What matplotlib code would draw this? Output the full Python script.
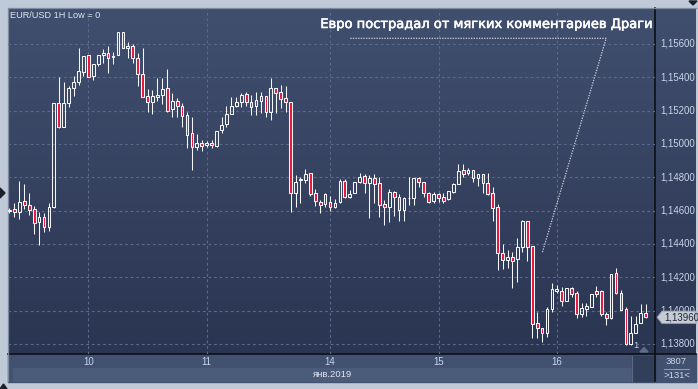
import numpy as np
import matplotlib
matplotlib.use('Agg')
import matplotlib.pyplot as plt
import matplotlib.patheffects as pe
from matplotlib.patches import Rectangle, Polygon

# ===== DATA : EUR/USD 1H, 9-16 Jan 2019 =====
opens = [1.14598, 1.14608, 1.14590, 1.14660, 1.14632, 1.14608, 1.14530, 1.14560, 1.14504, 1.14624,
         1.15244, 1.15104, 1.15244, 1.15334, 1.15372, 1.15434, 1.15531, 1.15410, 1.15480, 1.15532,
         1.15544, 1.15520, 1.15534, 1.15674, 1.15574, 1.15590, 1.15514, 1.15418, 1.15290, 1.15252,
         1.15284, 1.15292, 1.15334, 1.15208, 1.15258, 1.15228, 1.15174, 1.15068, 1.14980, 1.15004,
         1.14996, 1.15004, 1.14988, 1.15084, 1.15120, 1.15178, 1.15228, 1.15250, 1.15300, 1.15254,
         1.15230, 1.15260, 1.15288, 1.15194, 1.15334, 1.15310, 1.15274, 1.15254, 1.14704, 1.14784,
         1.14784, 1.14824, 1.14704, 1.14654, 1.14640, 1.14650, 1.14620, 1.14650, 1.14778, 1.14684,
         1.14704, 1.14774, 1.14808, 1.14764, 1.14794, 1.14764, 1.14638, 1.14620, 1.14710, 1.14684,
         1.14604, 1.14674, 1.14674, 1.14794, 1.14770, 1.14708, 1.14660, 1.14698, 1.14680, 1.14668,
         1.14714, 1.14760, 1.14844, 1.14824, 1.14844, 1.14794, 1.14820, 1.14764, 1.14704, 1.14620,
         1.14344, 1.14304, 1.14324, 1.14308, 1.14384, 1.14538, 1.14388, 1.13924, 1.13894, 1.13868,
         1.14008, 1.14120, 1.14120, 1.14060, 1.14134, 1.14104, 1.13978, 1.14008, 1.14024, 1.14120,
         1.14118, 1.13978, 1.13954, 1.14224, 1.14108, 1.14008, 1.13800, 1.13868, 1.13924, 1.13984]

highs = [1.14616, 1.14648, 1.14780, 1.14760, 1.14708, 1.14628, 1.14594, 1.14588, 1.14648, 1.15244,
         1.15400, 1.15372, 1.15348, 1.15408, 1.15574, 1.15528, 1.15534, 1.15478, 1.15534, 1.15570,
         1.15588, 1.15554, 1.15674, 1.15674, 1.15610, 1.15600, 1.15544, 1.15574, 1.15330, 1.15324,
         1.15394, 1.15394, 1.15448, 1.15304, 1.15278, 1.15244, 1.15194, 1.15164, 1.15060, 1.15024,
         1.15020, 1.15024, 1.15080, 1.15164, 1.15230, 1.15280, 1.15284, 1.15308, 1.15312, 1.15294,
         1.15314, 1.15314, 1.15288, 1.15394, 1.15334, 1.15354, 1.15348, 1.15254, 1.14814, 1.14800,
         1.14848, 1.14824, 1.14728, 1.14664, 1.14708, 1.14688, 1.14670, 1.14790, 1.14788, 1.14724,
         1.14774, 1.14824, 1.14818, 1.14814, 1.14818, 1.14804, 1.14664, 1.14728, 1.14720, 1.14698,
         1.14684, 1.14804, 1.14794, 1.14804, 1.14770, 1.14714, 1.14714, 1.14708, 1.14708, 1.14718,
         1.14764, 1.14878, 1.14880, 1.14854, 1.14844, 1.14820, 1.14820, 1.14824, 1.14744, 1.14638,
         1.14400, 1.14364, 1.14354, 1.14434, 1.14544, 1.14538, 1.14388, 1.13994, 1.13894, 1.14020,
         1.14164, 1.14154, 1.14140, 1.14134, 1.14140, 1.14118, 1.14044, 1.14044, 1.14100, 1.14148,
         1.14124, 1.13994, 1.14218, 1.14254, 1.14124, 1.14024, 1.13968, 1.13968, 1.14038, 1.14038]

lows = [1.14586, 1.14560, 1.14548, 1.14612, 1.14576, 1.14460, 1.14394, 1.14472, 1.14480, 1.14616,
        1.15094, 1.15100, 1.15220, 1.15288, 1.15352, 1.15408, 1.15404, 1.15384, 1.15468, 1.15488,
        1.15424, 1.15478, 1.15534, 1.15574, 1.15518, 1.15484, 1.15348, 1.15284, 1.15194, 1.15178,
        1.15260, 1.15240, 1.15194, 1.15164, 1.15164, 1.15104, 1.14974, 1.14844, 1.14964, 1.14960,
        1.14980, 1.14974, 1.14984, 1.15068, 1.15104, 1.15178, 1.15224, 1.15224, 1.15228, 1.15174,
        1.15174, 1.15184, 1.15164, 1.15144, 1.15184, 1.15218, 1.15194, 1.14594, 1.14624, 1.14648,
        1.14768, 1.14688, 1.14628, 1.14588, 1.14624, 1.14600, 1.14614, 1.14644, 1.14674, 1.14678,
        1.14704, 1.14764, 1.14708, 1.14558, 1.14644, 1.14564, 1.14514, 1.14534, 1.14568, 1.14540,
        1.14540, 1.14634, 1.14634, 1.14744, 1.14684, 1.14644, 1.14644, 1.14654, 1.14648, 1.14664,
        1.14708, 1.14760, 1.14804, 1.14814, 1.14774, 1.14748, 1.14708, 1.14694, 1.14540, 1.14244,
        1.14248, 1.14254, 1.14134, 1.14174, 1.14354, 1.14300, 1.13834, 1.13834, 1.13814, 1.13844,
        1.13994, 1.14104, 1.14028, 1.14060, 1.14084, 1.13958, 1.13964, 1.13968, 1.14024, 1.14080,
        1.13968, 1.13914, 1.13948, 1.14100, 1.14004, 1.13794, 1.13794, 1.13864, 1.13924, 1.13954]

closes = [1.14607, 1.14590, 1.14654, 1.14632, 1.14604, 1.14524, 1.14560, 1.14500, 1.14624, 1.15244,
          1.15104, 1.15244, 1.15334, 1.15372, 1.15436, 1.15528, 1.15405, 1.15478, 1.15534, 1.15544,
          1.15518, 1.15528, 1.15674, 1.15574, 1.15588, 1.15514, 1.15418, 1.15284, 1.15252, 1.15286,
          1.15292, 1.15328, 1.15200, 1.15258, 1.15228, 1.15168, 1.15054, 1.14980, 1.15004, 1.14988,
          1.15004, 1.14992, 1.15080, 1.15112, 1.15180, 1.15228, 1.15252, 1.15296, 1.15254, 1.15224,
          1.15264, 1.15288, 1.15194, 1.15334, 1.15308, 1.15268, 1.15254, 1.14704, 1.14774, 1.14792,
          1.14818, 1.14700, 1.14660, 1.14634, 1.14700, 1.14620, 1.14644, 1.14778, 1.14684, 1.14700,
          1.14770, 1.14800, 1.14764, 1.14794, 1.14758, 1.14634, 1.14620, 1.14710, 1.14684, 1.14604,
          1.14674, 1.14676, 1.14794, 1.14770, 1.14704, 1.14654, 1.14700, 1.14674, 1.14660, 1.14718,
          1.14760, 1.14838, 1.14818, 1.14844, 1.14794, 1.14820, 1.14764, 1.14700, 1.14614, 1.14344,
          1.14304, 1.14324, 1.14300, 1.14384, 1.14538, 1.14384, 1.13920, 1.13894, 1.13864, 1.14008,
          1.14128, 1.14128, 1.14060, 1.14134, 1.14100, 1.13978, 1.14014, 1.14030, 1.14100, 1.14100,
          1.13978, 1.13954, 1.14218, 1.14108, 1.14004, 1.13800, 1.13864, 1.13918, 1.13984, 1.13960]

day_pos = [16, 40, 65, 87, 111]
day_labels = ['10', '11', '14', '15', '16']
price_levels = [1.138, 1.140, 1.142, 1.144, 1.146, 1.148, 1.150, 1.152, 1.154, 1.156]

title = 'EUR/USD 1H Low = 0'
note = 'Евро пострадал от мягких комментариев Драги'
# annotation path (bar index, price)
note_line_x = [69.1, 121.0, 108.0]
note_line_y = [1.15634, 1.15634, 1.14344]

# ===== STYLE =====
W, H = 698, 389
OUTER = '#bfc9d7'
GRID = '#5a6a8c'
TXT = '#c9d5ea'
RED = '#e8163a'
WHITE = '#f4f6fa'
LAB_FONT = ['Liberation Sans', 'DejaVu Sans']

fig = plt.figure(figsize=(W / 100, H / 100), dpi=100)
fig.patch.set_facecolor(OUTER)

# background layer in pixel coordinates
bg = fig.add_axes([0, 0, 1, 1])
bg.axis('off')
grad = np.linspace(0, 1, 256).reshape(-1, 1, 1)
c_top = np.array([0x41, 0x4f, 0x6f]) / 255
c_bot = np.array([0x2a, 0x35, 0x51]) / 255
img = c_top + (c_bot - c_top) * grad
bg.imshow(img, extent=(8, 696, 354, 8), aspect='auto', interpolation='bilinear', zorder=0)
bg.set_xlim(0, W)
bg.set_ylim(H, 0)

# time axis band
bg.add_patch(Rectangle((8, 354), 688, 27.5, color='#425170', zorder=1))
bg.add_patch(Rectangle((12.5, 367.5), 620, 13.5, color='#4b5b7a', zorder=1))
bg.add_patch(Rectangle((632, 356), 23, 25, color='#323f5b', zorder=2))
bg.plot([632, 632], [356, 381], color='#5a6984', lw=0.8, zorder=3)
bg.plot([8, 696], [354, 354], color='#0c0f16', lw=1.2, zorder=3)
bg.plot([655, 655], [8, 381], color='#0c0f16', lw=1.2, zorder=3)
bg.plot([7.5, 696], [7.5, 7.5], color='#7e8ba1', lw=0.9, zorder=3)
bg.plot([7.5, 7.5], [7.5, 381], color='#7e8ba1', lw=0.9, zorder=3)

bg.text(333, 374.5, 'янв.2019', color='#dfe6f2', fontsize=6.8, family=LAB_FONT,
        ha='center', va='center', zorder=4)
bg.text(676.5, 362, '3807', color=TXT, fontsize=6.8, family=LAB_FONT, ha='center', va='center', zorder=4)
bg.plot([664, 689], [368.5, 368.5], color='#8a9ab5', lw=0.8, zorder=4)
bg.text(676.5, 375.5, '>131<', color=TXT, fontsize=6.8, family=LAB_FONT, ha='center', va='center', zorder=4)
bg.text(636, 346, '1', color=TXT, fontsize=6.8, family=LAB_FONT, ha='center', va='center', zorder=4)
bg.add_patch(Polygon([(640, 352), (648, 352), (644, 347.5)], color='#5f6e88', zorder=4))

# small platform arrows
bg.add_patch(Polygon([(0, 188), (0, 198), (5, 193)], color='#1b202b', zorder=4))
bg.add_patch(Polygon([(689, 1), (697, 1), (693, 5)], color='#1b202b', zorder=4))
bg.add_patch(Polygon([(0, 389), (7, 389), (3.5, 384)], color='#1b202b', zorder=4))

bg.text(10, 15, title, color='#dfe6f2', fontsize=6.6, family=LAB_FONT, ha='left', va='center', zorder=4)

# ===== MAIN CHART =====
ax = fig.add_axes([8 / W, 1 - 354 / H, 647 / W, 346 / H])
ax.patch.set_alpha(0)
ax.set_axis_off()
ax.set_xlim(-0.3, 130.9)
ax.set_ylim(1.13740, 1.15816)

for lvl in price_levels:
    ax.axhline(lvl, color=GRID, lw=0.8, ls=(0, (2.5, 2.5)), zorder=1)
for d in day_pos:
    ax.axvline(d, color=GRID, lw=0.8, ls=(0, (2.5, 2.5)), zorder=1)

bw = 0.56
min_h = 0.00003
for i in range(len(opens)):
    o, h, l, c = opens[i], highs[i], lows[i], closes[i]
    top = max(o, c)
    bot = min(o, c)
    if top - bot < min_h:
        top = bot + min_h
    h = max(h, top)
    l = min(l, bot)
    face = 'none' if c >= o else RED
    if h > top:
        ax.plot([i, i], [top, h], color=WHITE, lw=0.75, zorder=2, solid_capstyle='butt')
    if l < bot:
        ax.plot([i, i], [l, bot], color=WHITE, lw=0.75, zorder=2, solid_capstyle='butt')
    ax.add_patch(Rectangle((i - bw / 2, bot), bw, top - bot, facecolor=face,
                           edgecolor=WHITE, lw=0.75, zorder=3))

# annotation
ax.plot(note_line_x, note_line_y, color='#c3c9d6', lw=0.9, ls=(0, (1.1, 1.0)), zorder=4)
ax.text(130.0, 1.15717, note, color='white', fontsize=9.4, family=['DejaVu Sans'],
        ha='right', va='center', zorder=5,
        path_effects=[pe.withStroke(linewidth=0.4, foreground='white')])

# price axis labels
for lvl in price_levels:
    ax.annotate(f'{lvl:.5f}'.replace('.', ','), xy=(1, lvl), xycoords=('axes fraction', 'data'),
                xytext=(3.6, 0), textcoords='offset points', ha='left', va='center',
                color=TXT, fontsize=6.9, family=LAB_FONT, annotation_clip=False)

for d, lab in zip(day_pos, day_labels):
    ax.annotate(lab, xy=(d, 0), xycoords=('data', 'axes fraction'), xytext=(0, -5.8),
                textcoords='offset points', ha='center', va='center',
                color=TXT, fontsize=6.9, family=LAB_FONT, annotation_clip=False)

# last price marker (covers the 1,14000 label partly, as on the platform)
fig.canvas.draw()
_, yd = ax.transData.transform((0, closes[-1]))
yp = H - yd
over = fig.add_axes([0, 0, 1, 1])
over.axis('off')
over.set_xlim(0, W)
over.set_ylim(H, 0)
over.add_patch(Polygon([(657, yp), (662, yp - 6.3), (696, yp - 6.3), (696, yp + 6.3), (662, yp + 6.3)],
                       facecolor='#c6cbd4', edgecolor='#8e96a4', lw=0.6, zorder=5))
over.text(664, yp, f'{closes[-1]:.5f}'.replace('.', ','), color='#1d2536', fontsize=6.9,
          family=LAB_FONT, ha='left', va='center', zorder=6)

fig.savefig('out.png', dpi=100, facecolor=OUTER)
